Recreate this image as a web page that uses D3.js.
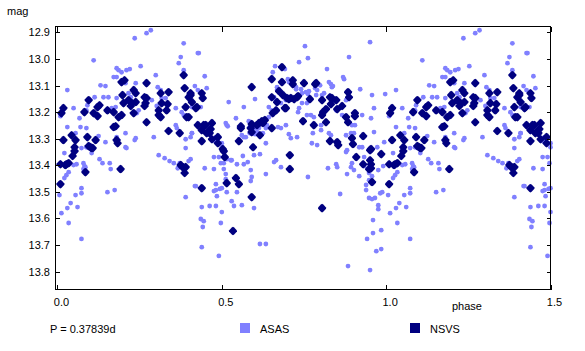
<!DOCTYPE html>
<html><head><meta charset="utf-8">
<script src="https://cdn.jsdelivr.net/npm/d3@7"></script>
<style>
body{margin:0;background:#fff}
svg{display:block}
text{font-family:"Liberation Sans",Arial,sans-serif;font-size:11px;fill:#000}
</style>
</head><body>
<svg id="c" width="585" height="351"></svg>
<script>
// ---------- data ----------
const periodLabel = "P = 0.37839d";
const seriesNames = ["ASAS", "NSVS"];
const seriesColors = ["#8080ff", "#000080"];
const xTicks = [0, 0.5, 1.0, 1.5];
const xTickLabels = ["0.0", "0.5", "1.0", "1.5"];
const yTicks = [12.9, 13.0, 13.1, 13.2, 13.3, 13.4, 13.5, 13.6, 13.7, 13.8];
const yTickLabels = ["12.9", "13.0", "13.1", "13.2", "13.3", "13.4", "13.5", "13.6", "13.7", "13.8"];
const xTitle = "phase";
const yTitle = "mag";

// ASAS observations (phase 0..1)
const asasPhase = [
0.009,0.030,0.049,0.030,0.067,0.070,0.055,0.110,0.113,0.088,0.088,0.091,0.131,0.146,0.140,0.155,0.165,0.171,0.180,0.186,
0.180,0.195,0.210,0.220,0.180,0.177,0.207,0.238,0.253,0.235,0.271,0.284,0.216,0.223,0.247,0.241,0.268,0.299,0.305,0.314,
0.287,0.302,0.293,0.146,0.125,0.180,0.207,0.238,0.207,0.360,0.360,0.363,0.384,0.375,0.369,0.384,0.378,0.384,0.393,0.409,
0.409,0.390,0.390,0.427,0.317,0.329,
0.021,0.009,0.006,0.012,0.021,0.027,0.034,0.040,0.030,0.034,0.055,0.061,0.049,0.058,0.073,0.073,0.073,0.079,0.082,0.085,
0.079,0.073,0.088,0.104,0.128,0.137,0.159,0.162,0.152,0.174,0.210,0.235,0.308,0.326,0.341,0.354,0.366,0.372,0.390,0.399,
0.405,0.418,0.421,
0.430,0.448,0.418,0.427,0.454,0.436,0.521,0.567,0.601,0.643,0.662,0.655,0.668,0.668,0.692,0.701,0.704,0.695,0.735,0.753,
0.762,0.726,0.726,0.741,0.744,0.756,0.762,0.765,0.784,0.799,0.790,0.759,0.744,0.759,0.735,0.771,0.780,0.805,0.811,0.820,
0.832,0.838,0.869,0.872,0.887,0.921,0.951,0.957,0.963,0.997,0.927,0.954,0.863,0.866,0.841,0.848,0.878,0.896,0.905,0.893,
0.902,0.878,0.826,0.832,0.802,0.802,0.777,0.790,0.774,0.704,0.710,0.729,0.732,0.695,0.652,0.671,0.680,0.643,0.637,0.634,
0.619,0.613,0.607,0.582,0.585,0.561,0.567,0.543,0.518,0.601,0.601,0.625,0.634,0.500,0.500,0.482,0.482,0.405,0.409,0.512,
0.515,0.573,0.585,0.918,0.927,0.963,0.973,0.994,0.826,0.835,0.787,0.659,0.665,0.680,
0.448,0.439,0.436,0.445,0.442,0.439,0.463,0.482,0.476,0.491,0.497,0.506,0.506,0.476,0.482,0.482,0.476,0.494,0.500,0.485,
0.500,0.497,0.512,0.512,0.515,0.527,0.530,0.515,0.530,0.537,0.546,0.546,0.561,0.564,0.567,0.579,0.588,0.588,0.591,0.598,
0.616,0.598,0.634,0.659,0.665,0.680,0.616,0.634,0.491,0.762,0.823,0.848,0.851,0.860,0.881,0.878,0.881,0.896,0.893,0.902,
0.933,0.933,0.918,0.939,0.939,0.948,0.957,0.976,0.991,0.948,0.957,0.966,0.976,0.976,0.982,0.988,0.960,0.960,0.985,0.942,
0.985,0.970,0.884,0.951,0.948
];
const asasMag = [
13.215,13.117,13.185,13.256,13.223,13.256,13.279,13.005,13.144,13.193,13.260,13.174,13.099,13.102,13.144,13.144,13.185,13.068,13.035,13.042,
13.068,13.050,13.042,13.038,13.147,13.181,13.091,13.091,13.027,12.922,12.903,12.892,13.129,13.144,13.193,13.204,13.155,13.061,13.106,13.117,
13.155,13.177,13.294,13.313,13.290,13.294,13.279,13.298,13.332,13.185,13.249,13.260,12.941,12.993,13.016,13.042,13.200,13.211,13.181,13.181,
13.279,13.302,13.335,12.978,13.147,13.147,
13.354,13.467,13.512,13.580,13.448,13.437,13.426,13.542,13.561,13.617,13.512,13.557,13.399,13.396,13.486,13.505,13.677,13.392,13.403,13.407,
13.414,13.335,13.332,13.354,13.377,13.392,13.392,13.414,13.501,13.493,13.335,13.305,13.362,13.373,13.384,13.392,13.411,13.392,13.520,13.384,
13.377,13.478,13.478,
12.978,13.065,13.102,13.117,13.110,13.181,13.162,13.181,13.151,13.181,13.027,13.050,13.106,13.117,13.038,13.076,13.087,13.155,13.012,12.952,
12.997,13.106,13.114,13.114,13.129,13.125,13.132,13.121,13.110,13.099,13.117,13.166,13.166,13.211,13.185,13.211,13.219,13.136,13.129,13.038,
13.095,13.102,13.068,13.076,12.993,13.114,12.937,13.136,13.185,13.132,13.211,13.223,13.181,13.211,13.155,13.193,13.155,13.249,13.249,13.279,
13.279,13.287,13.279,13.287,13.268,13.249,13.279,13.324,13.317,13.283,13.298,13.294,13.200,13.249,13.193,13.256,13.260,13.219,13.249,13.260,
13.241,13.260,13.275,13.234,13.256,13.287,13.294,13.223,13.253,13.260,13.283,13.279,13.317,13.317,13.332,13.294,13.313,13.294,13.279,13.241,
13.249,13.294,13.279,13.332,13.332,13.275,13.332,13.313,13.087,13.106,13.136,13.144,13.155,13.166,
13.411,13.557,13.602,13.610,13.632,13.708,13.553,13.553,13.369,13.369,13.392,13.392,13.414,13.414,13.471,13.493,13.497,13.489,13.486,13.516,
13.576,13.617,13.433,13.452,13.377,13.381,13.381,13.501,13.535,13.553,13.501,13.396,13.550,13.365,13.396,13.388,13.418,13.459,13.444,13.362,
13.358,13.561,13.433,13.388,13.381,13.407,13.696,13.696,13.741,13.444,13.411,13.396,13.407,13.508,13.433,13.350,13.343,13.392,13.407,13.418,
13.369,13.403,13.441,13.474,13.493,13.429,13.441,13.418,13.403,13.523,13.527,13.523,13.550,13.565,13.505,13.501,13.606,13.655,13.644,13.677,
13.715,13.723,13.779,13.794,13.456
];

// NSVS observations (phase 0..1)
const nsvsPhase = [
0.018,0.012,0.018,0.043,0.055,0.052,0.082,0.095,0.091,0.095,0.104,0.110,0.116,0.122,0.128,0.122,0.152,0.171,0.186,0.195,
0.177,0.171,0.180,0.183,0.195,0.204,0.198,0.201,0.216,0.226,0.223,0.232,0.238,0.232,0.238,0.271,0.265,0.271,0.268,0.265,
0.271,0.314,0.317,0.308,0.314,0.308,0.338,0.335,0.332,0.338,0.384,0.387,0.390,0.399,0.405,0.393,0.399,0.372,0.421,0.427,
0.409,
0.009,0.009,0.024,0.027,0.034,0.046,0.052,0.085,0.101,0.107,0.192,0.375,0.381,0.390,0.387,
0.405,0.439,0.442,0.424,0.445,0.451,0.470,0.439,0.454,0.466,0.463,0.439,0.470,0.488,0.488,0.503,0.552,0.558,0.558,0.591,
0.588,0.591,0.591,0.616,0.607,0.613,0.622,0.631,0.625,0.595,0.652,0.652,0.652,0.655,0.665,0.668,0.674,0.683,0.683,0.686,
0.692,0.695,0.698,0.704,0.710,0.716,0.716,0.720,0.729,0.732,0.750,0.747,0.768,0.780,0.787,0.784,0.805,0.805,0.808,0.817,
0.817,0.829,0.835,0.848,0.832,0.851,0.866,0.878,0.884,0.887,0.884,0.905,0.905,0.829,0.851,0.854,0.896,0.899,0.930,0.954,
0.506,0.509,0.439,0.515,0.543,0.552,0.591,0.534,0.707,0.707,0.805,0.909,0.930,0.951,0.954,0.954,0.948,0.951,0.985,0.957
];
const nsvsMag = [
13.185,13.204,13.305,13.287,13.305,13.332,13.200,13.155,13.294,13.328,13.335,13.204,13.305,13.181,13.174,13.215,13.193,13.200,13.219,13.211,
13.253,13.256,13.305,13.317,13.087,13.080,13.136,13.166,13.155,13.166,13.177,13.117,13.129,13.204,13.162,13.091,13.144,13.147,13.166,13.177,
13.238,13.129,13.166,13.193,13.219,13.211,13.125,13.170,13.193,13.271,13.061,13.110,13.181,13.144,13.129,13.219,13.219,13.279,13.185,13.249,
13.162,
13.471,13.396,13.399,13.396,13.392,13.365,13.347,13.426,13.332,13.335,13.414,13.399,13.407,13.407,13.429,
13.136,13.129,13.147,13.181,13.249,13.249,13.241,13.268,13.279,13.264,13.279,13.309,13.302,13.294,13.317,13.339,13.309,13.253,13.260,13.106,
13.260,13.275,13.245,13.287,13.249,13.241,13.234,13.230,13.241,13.332,13.076,13.144,13.260,13.204,13.193,13.162,13.121,13.087,13.031,13.136,
13.185,13.185,13.147,13.151,13.147,13.080,13.095,13.151,13.144,13.140,13.091,13.234,13.151,13.249,13.091,13.095,13.155,13.211,13.200,13.189,
13.238,13.144,13.147,13.155,13.170,13.189,13.177,13.219,13.125,13.144,13.238,13.204,13.215,13.309,13.313,13.324,13.298,13.320,13.290,13.339,
13.347,13.369,13.486,13.467,13.448,13.471,13.520,13.647,13.362,13.414,13.561,13.369,13.396,13.381,13.396,13.411,13.414,13.343,13.358,13.463
];

// ---------- chart ----------
const svg = d3.select("#c");
const plot = {left: 55.5, right: 550.5, top: 26.5, bottom: 289.5};

const x = d3.scaleLinear().domain([-0.006, 1.5]).range([plot.left, plot.right]);
const y = d3.scaleLinear().domain([12.876, 13.869]).range([26, 290]);

// phase diagram: points with phase < 0.5 are repeated one cycle later
function fold(ph, mg) {
  const out = [];
  ph.forEach((p, i) => {
    out.push({p: p, m: mg[i]});
    if (p + 1 <= 1.5) out.push({p: p + 1, m: mg[i]});
  });
  return out;
}
const asas = fold(asasPhase, asasMag);
const nsvs = fold(nsvsPhase, nsvsMag);

const g = svg.append("g");

// ASAS dots
g.append("g").selectAll("circle").data(asas).join("circle")
  .attr("cx", d => x(d.p)).attr("cy", d => y(d.m))
  .attr("r", 2.4).attr("fill", seriesColors[0]);

// NSVS diamonds
const diamond = "M0,-4.3L1.2,-3.6L4,-0.6L4,0.6L1.2,3.6L0,4.3L-1.2,3.6L-4,0.6L-4,-0.6L-1.2,-3.6Z";
g.append("g").selectAll("path").data(nsvs).join("path")
  .attr("d", diamond)
  .attr("transform", d => `translate(${x(d.p)},${y(d.m)})`)
  .attr("fill", seriesColors[1]);

// frame
svg.append("rect")
  .attr("x", plot.left).attr("y", plot.top)
  .attr("width", plot.right - plot.left).attr("height", plot.bottom - plot.top)
  .attr("fill", "none").attr("stroke", "#000").attr("stroke-width", 1);

// ticks (all pointing inward)
const ax = svg.append("g").attr("stroke", "#000").attr("stroke-width", 1).attr("shape-rendering", "crispEdges");
yTicks.forEach(t => {
  const yy = Math.round(y(t)) + 0.5;
  ax.append("line").attr("x1", plot.left).attr("x2", plot.left + 4).attr("y1", yy).attr("y2", yy);
  ax.append("line").attr("x1", plot.right).attr("x2", plot.right - 4).attr("y1", yy).attr("y2", yy);
});
xTicks.forEach(t => {
  const xx = Math.round(x(t)) + 0.5;
  ax.append("line").attr("x1", xx).attr("x2", xx).attr("y1", plot.top).attr("y2", plot.top + 5);
  ax.append("line").attr("x1", xx).attr("x2", xx).attr("y1", plot.bottom).attr("y2", plot.bottom - 5);
});

// tick labels
svg.append("g").selectAll("text").data(yTicks).join("text")
  .attr("x", 50).attr("y", d => y(d)).attr("dy", "0.36em")
  .attr("text-anchor", "end").text((d, i) => yTickLabels[i]);
svg.append("g").selectAll("text").data(xTicks).join("text")
  .attr("x", d => x(d) + 4).attr("y", 306)
  .attr("text-anchor", "middle").text((d, i) => xTickLabels[i]);

// axis titles
svg.append("text").attr("x", 7).attr("y", 15).text(yTitle);
svg.append("text").attr("x", 452).attr("y", 310).text(xTitle);

// legend
svg.append("text").attr("x", 50).attr("y", 333).text(periodLabel);
const leg = [{x: 240}, {x: 410}];
leg.forEach((l, i) => {
  svg.append("rect").attr("x", l.x).attr("y", 323).attr("width", 10).attr("height", 10).attr("fill", seriesColors[i]);
  svg.append("text").attr("x", l.x + 20).attr("y", 333).text(seriesNames[i]);
});
</script>
</body></html>
